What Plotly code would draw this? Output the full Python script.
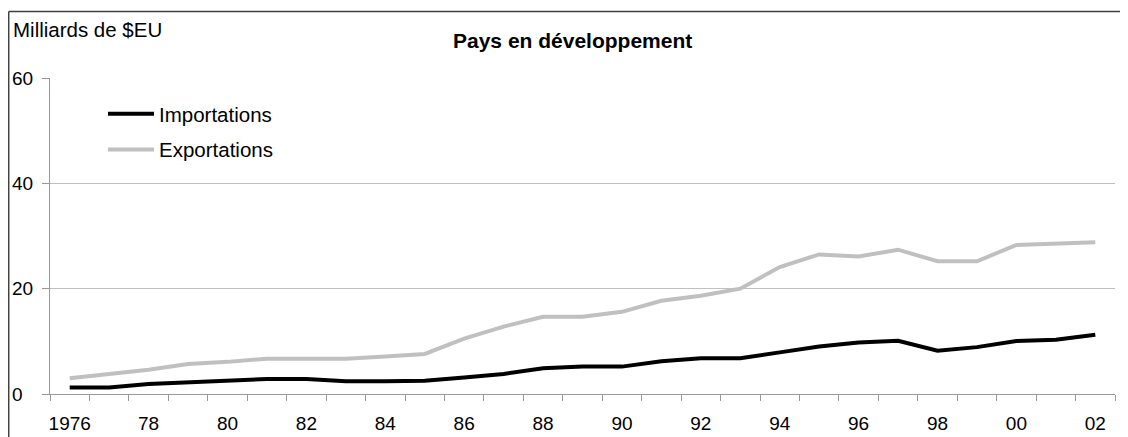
import plotly.graph_objects as go

# Données (milliards de $EU)
annees = list(range(1976, 2003))
importations = [1.25, 1.25, 1.9, 2.2, 2.5, 2.85, 2.85, 2.4, 2.4, 2.5,
                3.15, 3.8, 4.9, 5.2, 5.2, 6.2, 6.8, 6.8, 7.9, 9.0,
                9.8, 10.1, 8.2, 8.9, 10.05, 10.3, 11.25]
exportations = [3.0, 3.8, 4.6, 5.7, 6.1, 6.7, 6.7, 6.7, 7.1, 7.6,
                10.5, 12.8, 14.65, 14.65, 15.6, 17.7, 18.65, 20.0, 24.1, 26.5,
                26.1, 27.4, 25.2, 25.2, 28.3, 28.6, 28.8]
etiquettes_x = ['1976', '78', '80', '82', '84', '86', '88', '90', '92', '94', '96', '98', '00', '02']
valeurs_y = [0, 20, 40, 60]

police = 'Liberation Sans, Arial, sans-serif'

fig = go.Figure()
fig.add_trace(go.Scatter(x=annees, y=importations, mode='lines', name='Importations',
                         line=dict(color='black', width=4), legendgroup='imp'))
fig.add_trace(go.Scatter(x=annees, y=exportations, mode='lines', name='Exportations',
                         line=dict(color='#c0c0c0', width=4), legendgroup='exp'))

# la page ajoute une marge de 8 px autour du graphique
D = 8
W, H = 1128 - D, 437 - D
ml, mr, mt, mb = 50 - D, 13, 78 - D, 43
pw, ph = W - ml - mr, H - mt - mb

def px_x(x):
    return (x - D - ml) / pw

def px_y(y):
    return (H - mb - (y - D)) / ph

fig.update_layout(
    width=W, height=H,
    margin=dict(l=ml, r=mr, t=mt, b=mb),
    paper_bgcolor='white', plot_bgcolor='white',
    font=dict(family=police, size=19, color='black'),
    showlegend=True,
    legend=dict(x=px_x(103), y=px_y(94), xanchor='left', yanchor='top', itemwidth=46,
                font=dict(size=20.5), tracegroupgap=6, bgcolor='rgba(0,0,0,0)'),
    xaxis=dict(range=[1975.5, 2002.5], tickvals=annees[::2], ticktext=etiquettes_x,
               ticks='', showgrid=False, showline=True, linecolor='#999999', linewidth=1,
               zeroline=False, ticklabelstandoff=12, automargin=False,
               minor=dict(tick0=1975.5, dtick=1, ticks='outside', ticklen=6,
                          tickcolor='#999999', showgrid=False)),
    yaxis=dict(range=[0, 60], tickvals=valeurs_y, ticktext=['0\u2007', '20', '40', '60'],
               ticks='outside', ticklen=7, tickcolor='#999999', ticklabelstandoff=5,
               showgrid=True, gridcolor='#c0c0c0', gridwidth=1, automargin=False,
               showline=True, linecolor='#999999', linewidth=1, zeroline=False),
    annotations=[
        dict(text='Milliards de $EU', xref='paper', yref='paper', x=px_x(11), y=px_y(29),
             xanchor='left', yanchor='middle', showarrow=False, font=dict(size=20.5)),
        dict(text='<b>Pays en développement</b>', xref='paper', yref='paper', x=px_x(572),
             y=px_y(40), xanchor='center', yanchor='middle', showarrow=False, font=dict(size=21)),
    ],
    shapes=[
        dict(type='line', xref='paper', yref='paper', x0=px_x(8.7), x1=px_x(1128), y0=px_y(11.5), y1=px_y(11.5),
             line=dict(color='#404040', width=1.5)),
        dict(type='line', xref='paper', yref='paper', x0=px_x(8.7), x1=px_x(8.7), y0=px_y(11.5), y1=px_y(437),
             line=dict(color='#404040', width=1.5)),
    ],
)

fig.write_html('out.html')
